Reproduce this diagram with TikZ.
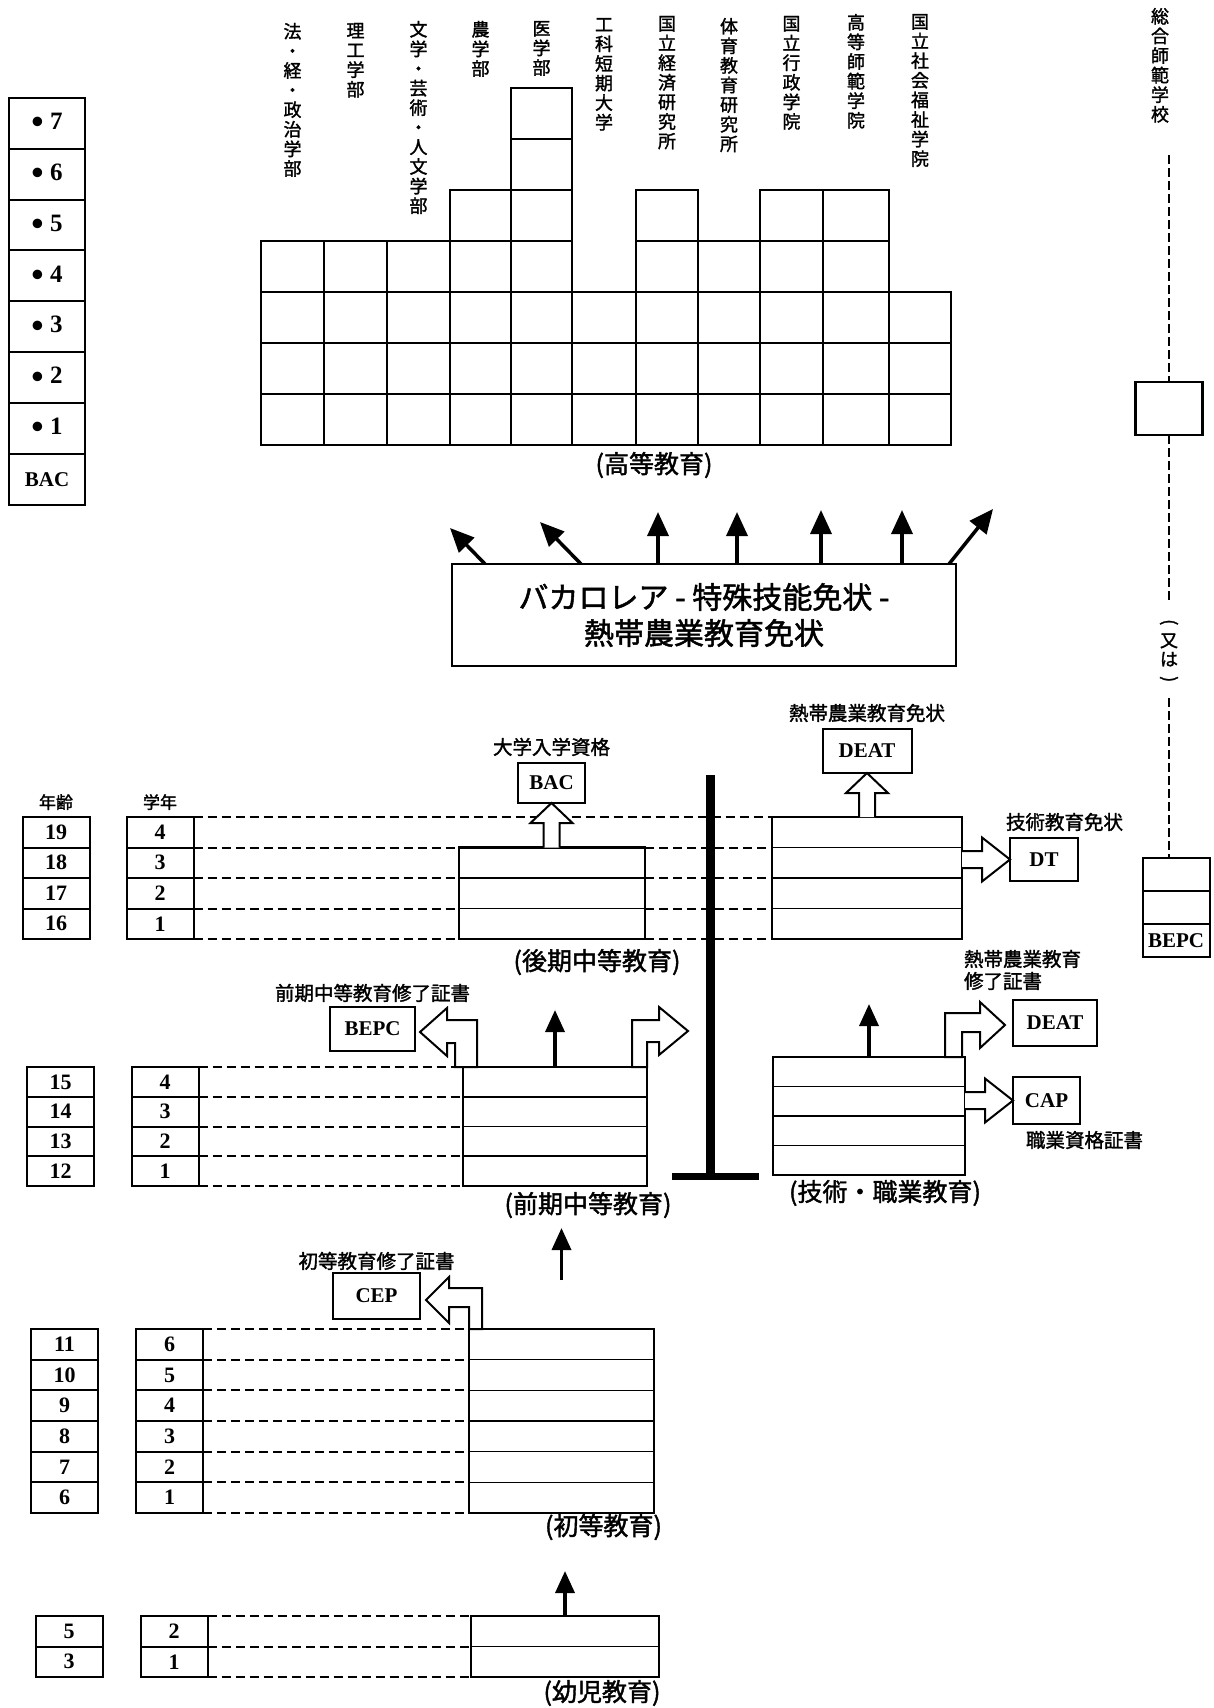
\documentclass[tikz,border=0pt]{standalone}
\usepackage{fontspec}
\setmainfont{Liberation Serif}
\newfontfamily\jpfont{Noto Sans CJK JP}[FakeBold=1.6]
\usetikzlibrary{arrows.meta, positioning, calc}
\tikzset{
  every picture/.style={line width=2pt},
  cell/.style={draw, line width=2pt, inner sep=0pt, outer sep=0pt, minimum width=67pt, minimum height=#1, font=\bfseries\fontsize{22}{22}\selectfont},
  cell/.default=30.5pt,
  yr/.style={draw, line width=2pt, inner sep=0pt, outer sep=0pt, minimum width=76pt, minimum height=50.9pt, font=\bfseries\fontsize{25}{25}\selectfont},
  code/.style={draw, line width=2pt, inner sep=0pt, outer sep=0pt, font=\bfseries\fontsize{21}{21}\selectfont},
  secbox/.style={draw, line width=2.5pt, inner sep=0pt, outer sep=0pt},
  rowline/.style={line width=1.6pt},
  rowdash/.style={line width=2pt, dash pattern=on 9pt off 5pt},
  solidup/.style={-{Triangle[length=22pt, width=19pt]}, line width=3.5pt},
  hollow/.style={draw, fill=white, line width=2pt, line join=miter},
  jp/.style={font=\jpfont\fontsize{19.5}{22}\selectfont, inner sep=0pt, align=left},
  vjp/.style={font=\jpfont\fontsize{18}{19.6}\selectfont, inner sep=0pt, align=center, anchor=north},
  seclab/.style={font=\jpfont\fontsize{25}{25}\selectfont, inner sep=0pt},
}
% hollow block arrows
\newcommand\hollowup[2]{\draw[hollow] ($(#1)+(-8,0)$) -- ($(#2)+(-8,20)$) -- ($(#2)+(-21,20)$) -- (#2)
  -- ($(#2)+(21,20)$) -- ($(#2)+(8,20)$) -- ($(#1)+(8,0)$);}
\newcommand\hollowright[2]{\draw[hollow] ($(#1)+(0,-8.5)$) -- ($(#2)+(-28,-8.5)$) -- ($(#2)+(-28,-22)$) -- (#2)
  -- ($(#2)+(-28,22)$) -- ($(#2)+(-28,8.5)$) -- ($(#1)+(0,8.5)$);}
\newcommand\yrdot{\raisebox{-.17em}{\scalebox{1.4}{\textbullet}}}

\begin{document}
\begin{tikzpicture}[x=1pt, y=-1pt,
  gridline/.style={line width=2.6pt},
  vdash/.style={line width=2.8pt, dash pattern=on 9pt off 4pt},
  bigup/.style={-{Triangle[length=24pt, width=21pt]}, line width=3.5pt}]
  \path[use as bounding box, fill=white] (0,0) rectangle (1213,1708);

  % years of higher education
  \foreach \i in {1,...,7} \node[yr] (yr\i) at (47,{479.5-50.9*\i}) {\yrdot\ \i};
  \node[yr, font=\bfseries\fontsize{21}{21}\selectfont] (yr0) at (47,479.5) {BAC};

  % faculties
  \foreach \xa/\xb/\n/\ty/\lab [count=\c] in {
    261/324/4/22/{法\\・\\経\\・\\政\\治\\学\\部},
    324/387/4/22/{理\\工\\学\\部},
    387/450/4/20/{文\\学\\・\\芸\\術\\・\\人\\文\\学\\部},
    450/511/5/20/{農\\学\\部},
    511/572/7/20/{医\\学\\部},
    572/636/3/17/{工\\科\\短\\期\\大\\学},
    636/698/5/15/{国\\立\\経\\済\\研\\究\\所},
    698/760/4/17/{体\\育\\教\\育\\研\\究\\所},
    760/823/5/15/{国\\立\\行\\政\\学\\院},
    823/889/5/13/{高\\等\\師\\範\\学\\院},
    889/951/3/13/{国\\立\\社\\会\\福\\祉\\学\\院}} {
    \draw[gridline] (\xa,445) rectangle (\xb,{445-51*\n});
    \foreach \r in {1,...,\n} \draw[gridline] (\xa,{445-51*\r}) -- (\xb,{445-51*\r});
    \node[vjp] (fac\c) at ({(\xa+\xb)/2},\ty) {\lab};
  }
  \node[seclab] (highlab) at (654,465) {(高等教育)};

  \node[draw, line width=2pt, minimum width=504pt, minimum height=102pt, inner sep=0pt, outer sep=0pt,
    font=\jpfont\fontsize{30}{36}\selectfont, align=center] (cert) at (704,615)
    {バカロレア - 特殊技能免状 -\\熱帯農業教育免状};
  \foreach \dx/\mx/\my in {33/-35/-36, 129/-41/-42, 206/0/-52, 285/0/-52, 369/0/-54, 450/0/-54, 497/44/-55}
    \draw[bigup] ($(cert.north west)+(\dx,0)$) -- ++(\mx,\my);

  % teacher training school
  \node[vjp] (sogo) at (1160,7) {総\\合\\師\\範\\学\\校};
  \coordinate (sogoend) at (1169,155);
  \node[draw, line width=2.5pt, minimum width=67pt, minimum height=53pt, outer sep=0pt] (sbox) at (1169,408.5) {};
  \node[font=\jpfont\fontsize{18}{19}\selectfont, inner sep=0pt, align=center] (orlab) at (1169,652)
    {\rotatebox[origin=c]{-90}{(}\\又\\は\\\rotatebox[origin=c]{-90}{)}};
  \node[cell=33pt] (stk3) at (1176,874.5) {};
  \node[cell=33pt] (stk2) at (1176,907.5) {};
  \node[cell=33pt, font=\bfseries\fontsize{21}{21}\selectfont] (stk1) at (1176,940.5) {BEPC};
  \draw[vdash] (sogoend) -- (sbox.north);
  \draw[vdash] (sbox.south) -- ([yshift=16pt]orlab.north);
  \draw[vdash] ([yshift=-12pt]orlab.south) -- (orlab.south |- stk3.north);

  % upper secondary
  \foreach \a/\g [count=\i from 0] in {19/4,18/3,17/2,16/1} {
    \node[cell=30.5pt] (uage\g) at (56,{832.25+30.5*\i}) {\a};
    \node[cell=30.5pt] (ugrd\g) at (160,{832.25+30.5*\i}) {\g};
  }
  \node[font=\jpfont\fontsize{17}{17}\selectfont, inner sep=0pt, above=6pt of uage4] (agehdr) {年齢};
  \node[font=\jpfont\fontsize{17}{17}\selectfont, inner sep=0pt, above=6pt of ugrd4] (grdhdr) {学年};
  \node[secbox, minimum width=186pt, minimum height=91.5pt] (usec) at (552,893.25) {};
  \node[secbox, minimum width=190pt, minimum height=122pt] (rbox) at (867,878) {};
  \draw[rowdash] (ugrd4.north east) -- (rbox.north west);
  \foreach \g in {1,...,4} {
    \draw[rowdash] (ugrd\g.south east) -- (usec.west |- ugrd\g.south east);
    \draw[rowdash] (usec.east |- ugrd\g.south east) -- (rbox.west |- ugrd\g.south east);
  }
  \foreach \g in {1,2} \draw[rowline] (usec.west |- ugrd\g.north) -- (usec.east |- ugrd\g.north);
  \foreach \g in {1,2,3} \draw[rowline] (rbox.west |- ugrd\g.north) -- (rbox.east |- ugrd\g.north);
  \node[seclab, below=9pt of usec, xshift=45pt] (usecl) {(後期中等教育)};

  \node[code, minimum width=67pt, minimum height=40pt] (bac) at (551.5,783) {BAC};
  \node[jp, above=6pt of bac] (baclab) {大学入学資格};
  \hollowup{bac.south |- usec.north}{bac.south}
  \node[code, minimum width=89pt, minimum height=44pt] (deatu) at (867,751) {DEAT};
  \node[jp, above=6pt of deatu] (deatulab) {熱帯農業教育免状};
  \hollowup{deatu.south |- rbox.north}{deatu.south}
  \node[code, minimum width=68pt, minimum height=43pt] (dt) at (1044,859.5) {DT};
  \node[jp, above=6pt of dt.north west, anchor=south west, xshift=-5pt] (dtlab) {技術教育免状};
  \hollowright{rbox.east |- dt.west}{dt.west}

  % the bar
  \coordinate (bartop) at (710,775);
  \coordinate (barbot) at (710,1176);
  \draw[line width=9pt] (bartop) -- (barbot);
  \draw[line width=7pt] ($(barbot)+(-38,0)$) -- ($(barbot)+(49,0)$);

  % lower secondary
  \foreach \a/\g [count=\i from 0] in {15/4,14/3,13/2,12/1} {
    \node[cell=29.75pt] (lage\g) at (60.5,{1081.875+29.75*\i}) {\a};
    \node[cell=29.75pt] (lgrd\g) at (165,{1081.875+29.75*\i}) {\g};
  }
  \node[secbox, minimum width=184pt, minimum height=119pt] (lsec) at (555,1126.5) {};
  \draw[rowdash] (lgrd4.north east) -- (lsec.north west);
  \foreach \g in {1,...,4} \draw[rowdash] (lgrd\g.south east) -- (lsec.west |- lgrd\g.south east);
  \foreach \g in {1,2,3} \draw[rowline] (lsec.west |- lgrd\g.north) -- (lsec.east |- lgrd\g.north);
  \node[seclab, below=5pt of lsec, xshift=33pt] (lsecl) {(前期中等教育)};

  \node[code, minimum width=85pt, minimum height=44pt] (bepc) at (372.5,1029) {BEPC};
  \node[jp, above=4pt of bepc] (bepclab) {前期中等教育修了証書};
  \draw[hollow] ($(lsec.north west)+(-8,0)$) -- ++(0,-24) -- ++(-8,0) -- ++(0,13) -- ++(-27,-24)
    -- ++(27,-24) -- ++(0,12) -- ++(30,0) -- ++(0,47) -- cycle;
  \draw[solidup] (lsec.north) -- ++(0,-57);
  \draw[hollow] ($(lsec.north east)+(-15,0)$) -- ++(0,-47) -- ++(27,0) -- ++(0,-13) -- ++(29,24)
    -- ++(-29,24) -- ++(0,-13) -- ++(-12,0) -- ++(0,25) -- cycle;

  % technical and vocational
  \node[secbox, minimum width=192pt, minimum height=118pt] (tsec) at (869,1116) {};
  \foreach \k in {1,2,3} \draw[rowline] ($(tsec.north west)+(0,29.5*\k)$) -- ($(tsec.north east)+(0,29.5*\k)$);
  \node[seclab, below=4pt of tsec, xshift=16pt] (tsecl) {(技術・職業教育)};
  \draw[solidup] (tsec.north) -- ++(0,-53);
  \node[code, minimum width=84pt, minimum height=46pt] (deatl) at (1055,1023) {DEAT};
  \node[jp, above=9pt of deatl.north west, anchor=south west, xshift=-50pt] (deatllab) {熱帯農業教育\\修了証書};
  \draw[hollow] ($(tsec.north east)+(-20,0)$) -- ++(0,-44) -- ++(35,0) -- ++(0,-11) -- ++(25,23)
    -- ++(-25,23) -- ++(0,-16) -- ++(-18,0) -- ++(0,25) -- cycle;
  \node[code, minimum width=67pt, minimum height=47pt] (cap) at (1046.5,1100.5) {CAP};
  \node[jp, below=6pt of cap.south west, anchor=north west, xshift=12pt] (caplab) {職業資格証書};
  \hollowright{tsec.east |- cap.west}{cap.west}

  % primary
  \foreach \a/\g [count=\i from 0] in {11/6,10/5,9/4,8/3,7/2,6/1} {
    \node[cell=30.67pt] (page\g) at (64.5,{1344.335+30.67*\i}) {\a};
    \node[cell=30.67pt] (pgrd\g) at (169.5,{1344.335+30.67*\i}) {\g};
  }
  \node[secbox, minimum width=185pt, minimum height=184pt] (psec) at (561.5,1421) {};
  \draw[rowdash] (pgrd6.north east) -- (psec.north west);
  \foreach \g in {1,...,6} \draw[rowdash] (pgrd\g.south east) -- (psec.west |- pgrd\g.south east);
  \foreach \g in {1,...,5} \draw[rowline] (psec.west |- pgrd\g.north) -- (psec.east |- pgrd\g.north);
  \node[seclab, below=0pt of psec, xshift=42pt] (psecl) {(初等教育)};
  \coordinate (pup) at ($(psec.north)+(0,-49)$);
  \draw[solidup] (pup) -- ++(0,-52);
  \node[code, minimum width=87pt, minimum height=46pt] (cep) at (376.5,1296) {CEP};
  \node[jp, above=2pt of cep] (ceplab) {初等教育修了証書};
  \draw[hollow] (psec.north west) -- ++(0,-22) -- ++(-20,0) -- ++(0,16) -- ++(-23,-23)
    -- ++(23,-23) -- ++(0,11) -- ++(33,0) -- ++(0,41) -- cycle;

  % pre-school
  \foreach \a/\g [count=\i from 0] in {5/2,3/1} {
    \node[cell=30.5pt] (kage\g) at (69,{1631.25+30.5*\i}) {\a};
    \node[cell=30.5pt] (kgrd\g) at (174,{1631.25+30.5*\i}) {\g};
  }
  \node[secbox, minimum width=188pt, minimum height=61pt] (ksec) at (565,1646.5) {};
  \draw[rowdash] (kgrd2.north east) -- (ksec.north west);
  \foreach \g in {1,2} \draw[rowdash] (kgrd\g.south east) -- (ksec.west |- kgrd\g.south east);
  \draw[rowline] (ksec.west |- kgrd1.north) -- (ksec.east |- kgrd1.north);
  \node[seclab, below=2pt of ksec, xshift=37pt] (ksecl) {(幼児教育)};
  \draw[solidup] (ksec.north) -- ++(0,-45);
\end{tikzpicture}
\end{document}
